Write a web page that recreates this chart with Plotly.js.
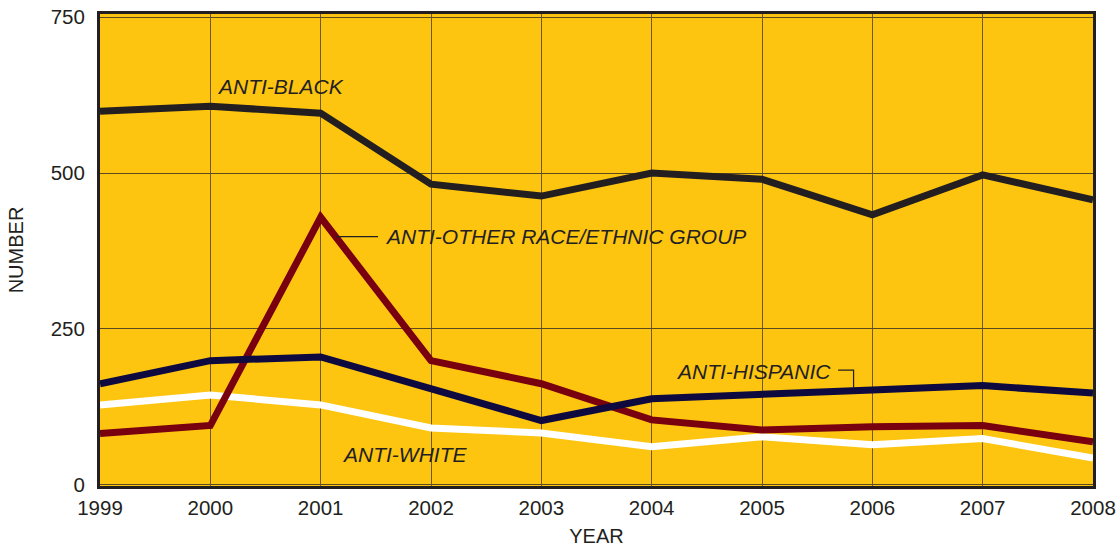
<!DOCTYPE html>
<html><head><meta charset="utf-8">
<script src="https://cdn.plot.ly/plotly-3.0.1.min.js"></script>
<style>html,body{margin:0;padding:0;background:#fff}#chart{width:1117px;height:552px}</style>
</head><body><div id="chart"></div>
<script>
const years = [1999,2000,2001,2002,2003,2004,2005,2006,2007,2008];
const antiBlack = [599,607,596,482,463,500,490,433,497,457];
const antiOther = [82,95,429,199,162,104,88,93,95,69];
const antiHispanic = [162,199,205,155,103,138,146,152,159,147];
const antiWhite = [128,144,128,91,83,61,77,64,74,43];
const yTicks = [0,250,500,750];

const font = 'Liberation Sans, Arial, sans-serif';
function tr(y, color){return {x:years, y:y, type:'scatter', mode:'lines', line:{color:color, width:7}, hoverinfo:'skip'};}
const data = [tr(antiWhite,'#ffffff'), tr(antiOther,'#78000f'), tr(antiHispanic,'#0e0a3f'), tr(antiBlack,'#231f20')];

const annFont = {family:font, size:21, color:'#231f20'};
const layout = {
  width:1117, height:552,
  margin:{l:100, r:24, t:14, b:66},
  paper_bgcolor:'#ffffff', plot_bgcolor:'#fdc410',
  showlegend:false,
  xaxis:{range:[1999,2008], tickvals:years, ticktext:years.map(String),
    showgrid:true, gridcolor:'#6e5a22', gridwidth:1,
    showline:true, linecolor:'#231f20', linewidth:3, mirror:true,
    ticks:'', ticklabelstandoff:1, tickfont:{family:font, size:20.5, color:'#231f20'},
    title:{text:'YEAR', font:{family:font, size:20, color:'#231f20'}, standoff:12}, zeroline:false},
  yaxis:{range:[-2,755], tickvals:yTicks, ticktext:yTicks.map(String),
    showgrid:true, gridcolor:'#5a4a1e', gridwidth:1,
    showline:true, linecolor:'#231f20', linewidth:3, mirror:true,
    ticks:'', ticklabelstandoff:8, tickfont:{family:font, size:20.5, color:'#231f20'},
    title:{text:'NUMBER', font:{family:font, size:20, color:'#231f20'}, standoff:22}, zeroline:false},
  annotations:[
    {x:2000.04, y:638, xref:'x', yref:'y', text:'<i>ANTI-BLACK</i>', showarrow:false, xanchor:'left', font:annFont},
    {x:2001.565, y:398, xref:'x', yref:'y', text:'<i>ANTI-OTHER RACE/ETHNIC GROUP</i>', showarrow:false, xanchor:'left', font:annFont},
    {x:2005.64, y:182, xref:'x', yref:'y', text:'<i>ANTI-HISPANIC</i>', showarrow:false, xanchor:'right', font:annFont},
    {x:2001.175, y:49, xref:'x', yref:'y', text:'<i>ANTI-WHITE</i>', showarrow:false, xanchor:'left', font:annFont}
  ],
  shapes:[
    {type:'line', xref:'x', yref:'y', x0:2001.14, x1:2001.52, y0:398, y1:398, line:{color:'#231f20', width:1.2}},
    {type:'path', xref:'x', yref:'y', path:'M 2005.69 184 L 2005.83 184 L 2005.83 155', line:{color:'#231f20', width:1.2}}
  ]
};
Plotly.newPlot('chart', data, layout, {staticPlot:true, displayModeBar:false});
</script></body></html>
